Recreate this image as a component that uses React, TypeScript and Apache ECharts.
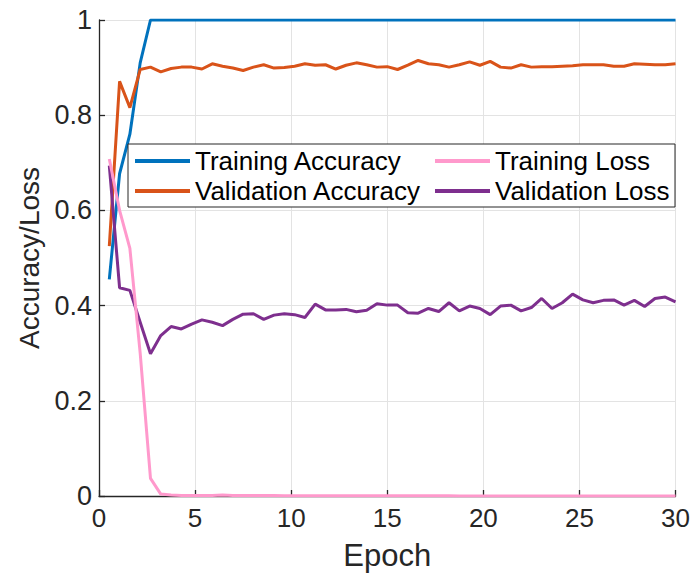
import React, { useEffect, useRef } from "react";
import * as echarts from "echarts";

const epochs = [
  0.536, 1.071, 1.607, 2.143, 2.679, 3.214, 3.75, 4.286, 4.821, 5.357,
  5.893, 6.429, 6.964, 7.5, 8.036, 8.571, 9.107, 9.643, 10.179, 10.714,
  11.25, 11.786, 12.321, 12.857, 13.393, 13.929, 14.464, 15.0, 15.536, 16.071,
  16.607, 17.143, 17.679, 18.214, 18.75, 19.286, 19.821, 20.357, 20.893, 21.429,
  21.964, 22.5, 23.036, 23.571, 24.107, 24.643, 25.179, 25.714, 26.25, 26.786,
  27.321, 27.857, 28.393, 28.929, 29.464, 30.0,
];

const trainingAccuracy = [
  0.455, 0.677, 0.76, 0.91, 1, 1, 1, 1, 1, 1,
  1, 1, 1, 1, 1, 1, 1, 1, 1, 1,
  1, 1, 1, 1, 1, 1, 1, 1, 1, 1,
  1, 1, 1, 1, 1, 1, 1, 1, 1, 1,
  1, 1, 1, 1, 1, 1, 1, 1, 1, 1,
  1, 1, 1, 1, 1, 1,
];

const validationAccuracy = [
  0.525, 0.871, 0.816, 0.896, 0.901, 0.891, 0.898, 0.901, 0.901, 0.897,
  0.908, 0.903, 0.899, 0.894, 0.901, 0.906, 0.899, 0.9, 0.903, 0.908,
  0.905, 0.906, 0.897, 0.905, 0.91, 0.906, 0.901, 0.902, 0.896, 0.905,
  0.915, 0.908, 0.906, 0.901, 0.906, 0.912, 0.905, 0.913, 0.901, 0.899,
  0.906, 0.901, 0.902, 0.902, 0.903, 0.904, 0.906, 0.906, 0.906, 0.903,
  0.903, 0.908, 0.907, 0.906, 0.906, 0.908,
];

const trainingLoss = [
  0.708, 0.6, 0.52, 0.3, 0.037, 0.004, 0.002, 0.001, 0.001, 0.001,
  0.001, 0.002, 0.001, 0.001, 0.001, 0.0008, 0.0008, 0.0007, 0.0007, 0.0006,
  0.0006, 0.0005, 0.0005, 0.0005, 0.0004, 0.0004, 0.0004, 0.0004, 0.0003, 0.0003,
  0.0003, 0.0003, 0.0003, 0.0003, 0.0002, 0.0002, 0.0002, 0.0002, 0.0002, 0.0002,
  0.0002, 0.0002, 0.0002, 0.0002, 0.0002, 0.0002, 0.0001, 0.0001, 0.0001, 0.0001,
  0.0001, 0.0001, 0.0001, 0.0001, 0.0001, 0.0001,
];

const validationLoss = [
  0.694, 0.4375, 0.432, 0.365, 0.299, 0.337, 0.356, 0.351, 0.361, 0.37,
  0.365, 0.358, 0.371, 0.382, 0.383, 0.371, 0.38, 0.383, 0.381, 0.375,
  0.403, 0.391, 0.391, 0.392, 0.387, 0.39, 0.404, 0.401, 0.401, 0.385,
  0.384, 0.394, 0.3875, 0.406, 0.389, 0.399, 0.394, 0.381, 0.399, 0.401,
  0.389, 0.396, 0.415, 0.394, 0.406, 0.424, 0.412, 0.406, 0.411, 0.412,
  0.401, 0.411, 0.398, 0.415, 0.418, 0.408,
];

const FONT = "'Liberation Sans', Arial, Helvetica, sans-serif";
const AXIS_COLOR = "#262626";

const pairs = (ys: number[]) => ys.map((y, i) => [epochs[i], y]);

export default function App() {
  const ref = useRef<HTMLDivElement>(null);

  useEffect(() => {
    if (!ref.current) return;
    const chart = echarts.init(ref.current, undefined, { renderer: "svg" });

    const mk = (name: string, color: string, ys: number[]) => ({
      name,
      type: "line",
      data: pairs(ys),
      showSymbol: false,
      symbol: "none",
      z: 2,
      lineStyle: { color, width: 3 },
      itemStyle: { color },
    });

    const legendText = { fontSize: 26, color: "#000", fontFamily: FONT };

    chart.setOption({
      animation: false,
      textStyle: { fontFamily: FONT },
      grid: { left: 99, right: 15, top: 20, bottom: 76, containLabel: false },
      xAxis: {
        type: "value",
        min: 0,
        max: 30,
        interval: 5,
        name: "Epoch",
        nameLocation: "middle",
        nameGap: 44,
        nameTextStyle: { fontSize: 31, color: AXIS_COLOR, fontFamily: FONT },
        axisLine: { show: true, lineStyle: { color: AXIS_COLOR, width: 1.3 } },
        axisTick: { show: true, inside: true, length: 6, lineStyle: { color: AXIS_COLOR, width: 1.3 } },
        axisLabel: { fontSize: 26, color: AXIS_COLOR, margin: 9, fontFamily: FONT },
        splitLine: { show: true, lineStyle: { color: "#e3e3e3", width: 1 } },
      },
      yAxis: {
        type: "value",
        min: 0,
        max: 1,
        interval: 0.2,
        name: "Accuracy/Loss",
        nameLocation: "middle",
        nameGap: 54,
        nameTextStyle: { fontSize: 28, color: AXIS_COLOR, fontFamily: FONT },
        axisLine: { show: true, lineStyle: { color: AXIS_COLOR, width: 1.3 } },
        axisTick: { show: true, inside: true, length: 6, lineStyle: { color: AXIS_COLOR, width: 1.3 } },
        axisLabel: { fontSize: 27, color: AXIS_COLOR, margin: 7, fontFamily: FONT },
        splitLine: { show: true, lineStyle: { color: "#e3e3e3", width: 1 } },
      },
      legend: [
        {
          data: ["Training Accuracy", "Validation Accuracy"],
          orient: "vertical",
          left: 135,
          top: 148,
          padding: 0,
          itemGap: 4,
          itemWidth: 55,
          itemHeight: 4,
          icon: "rect",
          textStyle: legendText,
          z: 10,
        },
        {
          data: ["Training Loss", "Validation Loss"],
          orient: "vertical",
          left: 435,
          top: 148,
          padding: 0,
          itemGap: 4,
          itemWidth: 55,
          itemHeight: 4,
          icon: "rect",
          textStyle: legendText,
          z: 10,
        },
      ],
      graphic: [
        {
          type: "rect",
          z: 5,
          shape: { x: 128, y: 144, width: 547, height: 63 },
          style: { fill: "#ffffff", stroke: AXIS_COLOR, lineWidth: 1 },
        },
      ],
      series: [
        mk("Training Accuracy", "#0072BD", trainingAccuracy),
        mk("Validation Accuracy", "#D95319", validationAccuracy),
        mk("Validation Loss", "#7E2F8E", validationLoss),
        mk("Training Loss", "#FF99CC", trainingLoss),
      ],
    });

    return () => chart.dispose();
  }, []);

  return (
    <div
      ref={ref}
      style={{ position: "fixed", left: 0, top: 0, width: 693, height: 576, background: "#fff" }}
    />
  );
}
